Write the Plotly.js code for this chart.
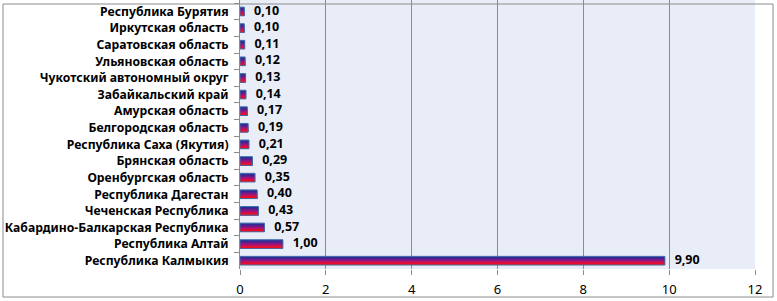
<!DOCTYPE html>
<html>
<head>
<meta charset="utf-8">
<script src="https://cdn.plot.ly/plotly-3.0.1.min.js"></script>
<style>html,body{margin:0;padding:0;background:#fff;}#chart{width:777px;height:301px;}</style>
</head>
<body>
<div id="chart"></div>
<script>
const regions = [
  "Республика Бурятия",
  "Иркутская область",
  "Саратовская область",
  "Ульяновская область",
  "Чукотский автономный округ",
  "Забайкальский край",
  "Амурская область",
  "Белгородская область",
  "Республика Саха (Якутия)",
  "Брянская область",
  "Оренбургская область",
  "Республика Дагестан",
  "Чеченская Республика",
  "Кабардино-Балкарская Республика",
  "Республика Алтай",
  "Республика Калмыкия"
];
const values = [0.10, 0.10, 0.11, 0.12, 0.13, 0.14, 0.17, 0.19, 0.21, 0.29, 0.35, 0.40, 0.43, 0.57, 1.00, 9.90];
const xTicks = [0, 2, 4, 6, 8, 10, 12];

const labels = values.map(v => v.toFixed(2).replace('.', ','));

const stripeColors = ['#262C9C', '#44248F', '#6A1C8A', '#961581', '#C0105E', '#E40C32', '#FF0A10'];
const barWidth = 0.52;
const n = stripeColors.length;
const sw = barWidth / n;
const traces = stripeColors.map((c, i) => ({
  type: 'bar', orientation: 'h',
  x: values, y: regions,
  width: barWidth - i * sw, offset: -barWidth / 2 + i * sw,
  marker: {color: c, line: {width: 0}},
  hoverinfo: 'skip', showlegend: false
}));
traces.push({
  type: 'bar', orientation: 'h',
  x: values, y: regions,
  width: barWidth, offset: -barWidth / 2,
  marker: {color: 'rgba(0,0,0,0)', line: {width: 1, color: '#3F6FA8'}},
  hoverinfo: 'skip', showlegend: false
});
traces.push({
  type: 'scatter', mode: 'text',
  x: values, y: regions,
  text: labels.map(t => '   ' + t),
  textposition: 'middle right',
  textfont: {family: 'Noto Sans', size: 12.5, color: '#000', weight: 'bold'},
  hoverinfo: 'skip', showlegend: false, cliponaxis: false
});

const layout = {
  width: 777, height: 301,
  margin: {l: 240, r: 22, t: 0, b: 32},
  paper_bgcolor: '#ffffff',
  plot_bgcolor: '#E9EDF7',
  barmode: 'overlay',
  showlegend: false,
  font: {family: 'Noto Sans', size: 12, color: '#000'},
  xaxis: {
    range: [0, 12], tickvals: xTicks, ticktext: xTicks.map(String),
    showgrid: true, gridcolor: '#8C8C8C', gridwidth: 1,
    zeroline: false, showline: false,
    ticks: 'outside', ticklen: 5, tickcolor: '#8C8C8C',
    ticklabelstandoff: 3,
    tickfont: {family: 'Noto Sans', size: 13, color: '#000'},
    fixedrange: true
  },
  yaxis: {
    type: 'category', range: [15.5, -0.69],
    showgrid: false, zeroline: false,
    showline: true, linecolor: '#8C8C8C', linewidth: 1,
    ticks: 'outside', ticklen: 5, tickcolor: '#8C8C8C', tickson: 'boundaries',
    tickfont: {family: 'Noto Sans', size: 12.2, color: '#000', weight: 'bold'},
    ticklabelstandoff: 8,
    fixedrange: true
  },
  shapes: [{
    type: 'rect', xref: 'paper', yref: 'paper',
    x0: (3 - 240) / 515, x1: (773 - 240) / 515,
    y0: -(297 - 269) / 269, y1: (269 - 4) / 269,
    line: {color: '#8C8C8C', width: 1}, fillcolor: 'rgba(0,0,0,0)', layer: 'below'
  }]
};

Plotly.newPlot('chart', traces, layout, {displayModeBar: false, staticPlot: true});
</script>
</body>
</html>
